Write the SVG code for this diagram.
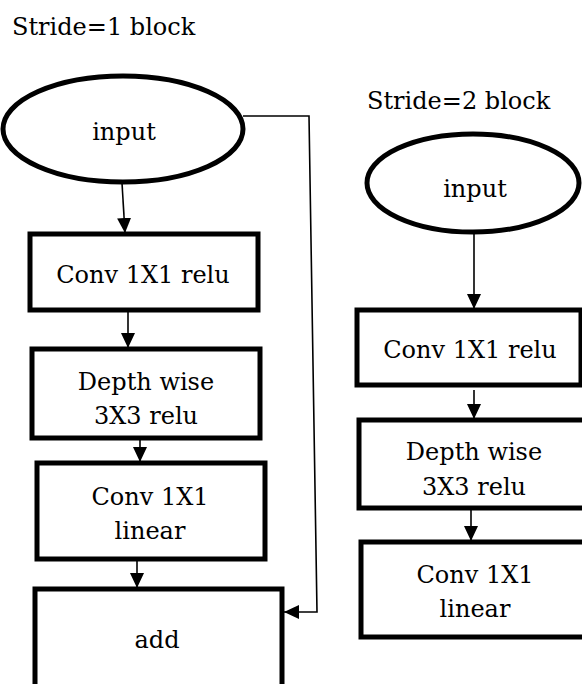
<svg xmlns="http://www.w3.org/2000/svg" width="582" height="684" viewBox="0 0 582 684">
<defs>
<marker id="ah" markerWidth="15" markerHeight="14" refX="15" refY="7" orient="auto" markerUnits="userSpaceOnUse" viewBox="0 0 15 14">
<path d="M0,0 L15,7 L0,14 z" fill="#000"/>
</marker>
<style>
.n{fill:#fff;stroke:#000;stroke-width:5}
.t{font-family:"DejaVu Serif","Liberation Serif",serif;font-size:24px;fill:#000;text-anchor:middle}
.h{font-family:"DejaVu Serif","Liberation Serif",serif;font-size:24px;fill:#000}
.c{fill:none;stroke:#000;stroke-width:1.6}
</style>
</defs>
<rect width="582" height="684" fill="#fff"/>
<text class="h" x="12" y="35">Stride=1 block</text>
<text class="h" x="367" y="109">Stride=2 block</text>

<g id="s1-input"><ellipse class="n" cx="123" cy="129" rx="120" ry="53"/><text class="t" x="124" y="140">input</text></g>
<g id="s1-conv-relu"><rect class="n" x="30" y="234" width="228" height="76"/><text class="t" x="143" y="283">Conv 1X1 relu</text></g>
<g id="s1-depthwise"><rect class="n" x="32" y="349" width="228" height="89"/><text class="t" x="146" y="390">Depth wise</text><text class="t" x="146" y="424">3X3 relu</text></g>
<g id="s1-conv-linear"><rect class="n" x="37" y="463" width="228" height="96"/><text class="t" x="150" y="505">Conv 1X1</text><text class="t" x="150" y="539">linear</text></g>
<g id="s1-add"><rect class="n" x="35" y="589" width="247" height="100"/><text class="t" x="157" y="648">add</text></g>

<g id="s2-input"><ellipse class="n" cx="473" cy="183" rx="106" ry="49"/><text class="t" x="475" y="197">input</text></g>
<g id="s2-conv-relu"><rect class="n" x="357" y="310" width="224" height="75"/><text class="t" x="470" y="358">Conv 1X1 relu</text></g>
<g id="s2-depthwise"><rect class="n" x="359" y="420" width="240" height="88"/><text class="t" x="474" y="460">Depth wise</text><text class="t" x="474" y="495">3X3 relu</text></g>
<g id="s2-conv-linear"><rect class="n" x="361" y="542" width="240" height="95"/><text class="t" x="475" y="583">Conv 1X1</text><text class="t" x="475" y="617">linear</text></g>

<g id="connectors">
<line class="c" x1="122" y1="183" x2="125" y2="233" marker-end="url(#ah)"/>
<line class="c" x1="128" y1="312" x2="128" y2="348" marker-end="url(#ah)"/>
<line class="c" x1="140" y1="438" x2="140" y2="462" marker-end="url(#ah)"/>
<line class="c" x1="137" y1="560" x2="137" y2="588" marker-end="url(#ah)"/>
<polyline class="c" points="243,116 309,116 317,612 284,612" marker-end="url(#ah)"/>
<line class="c" x1="474" y1="233" x2="474" y2="309" marker-end="url(#ah)"/>
<line class="c" x1="474" y1="390" x2="474" y2="419" marker-end="url(#ah)"/>
<line class="c" x1="471" y1="506" x2="471" y2="541" marker-end="url(#ah)"/>
</g>
</svg>
